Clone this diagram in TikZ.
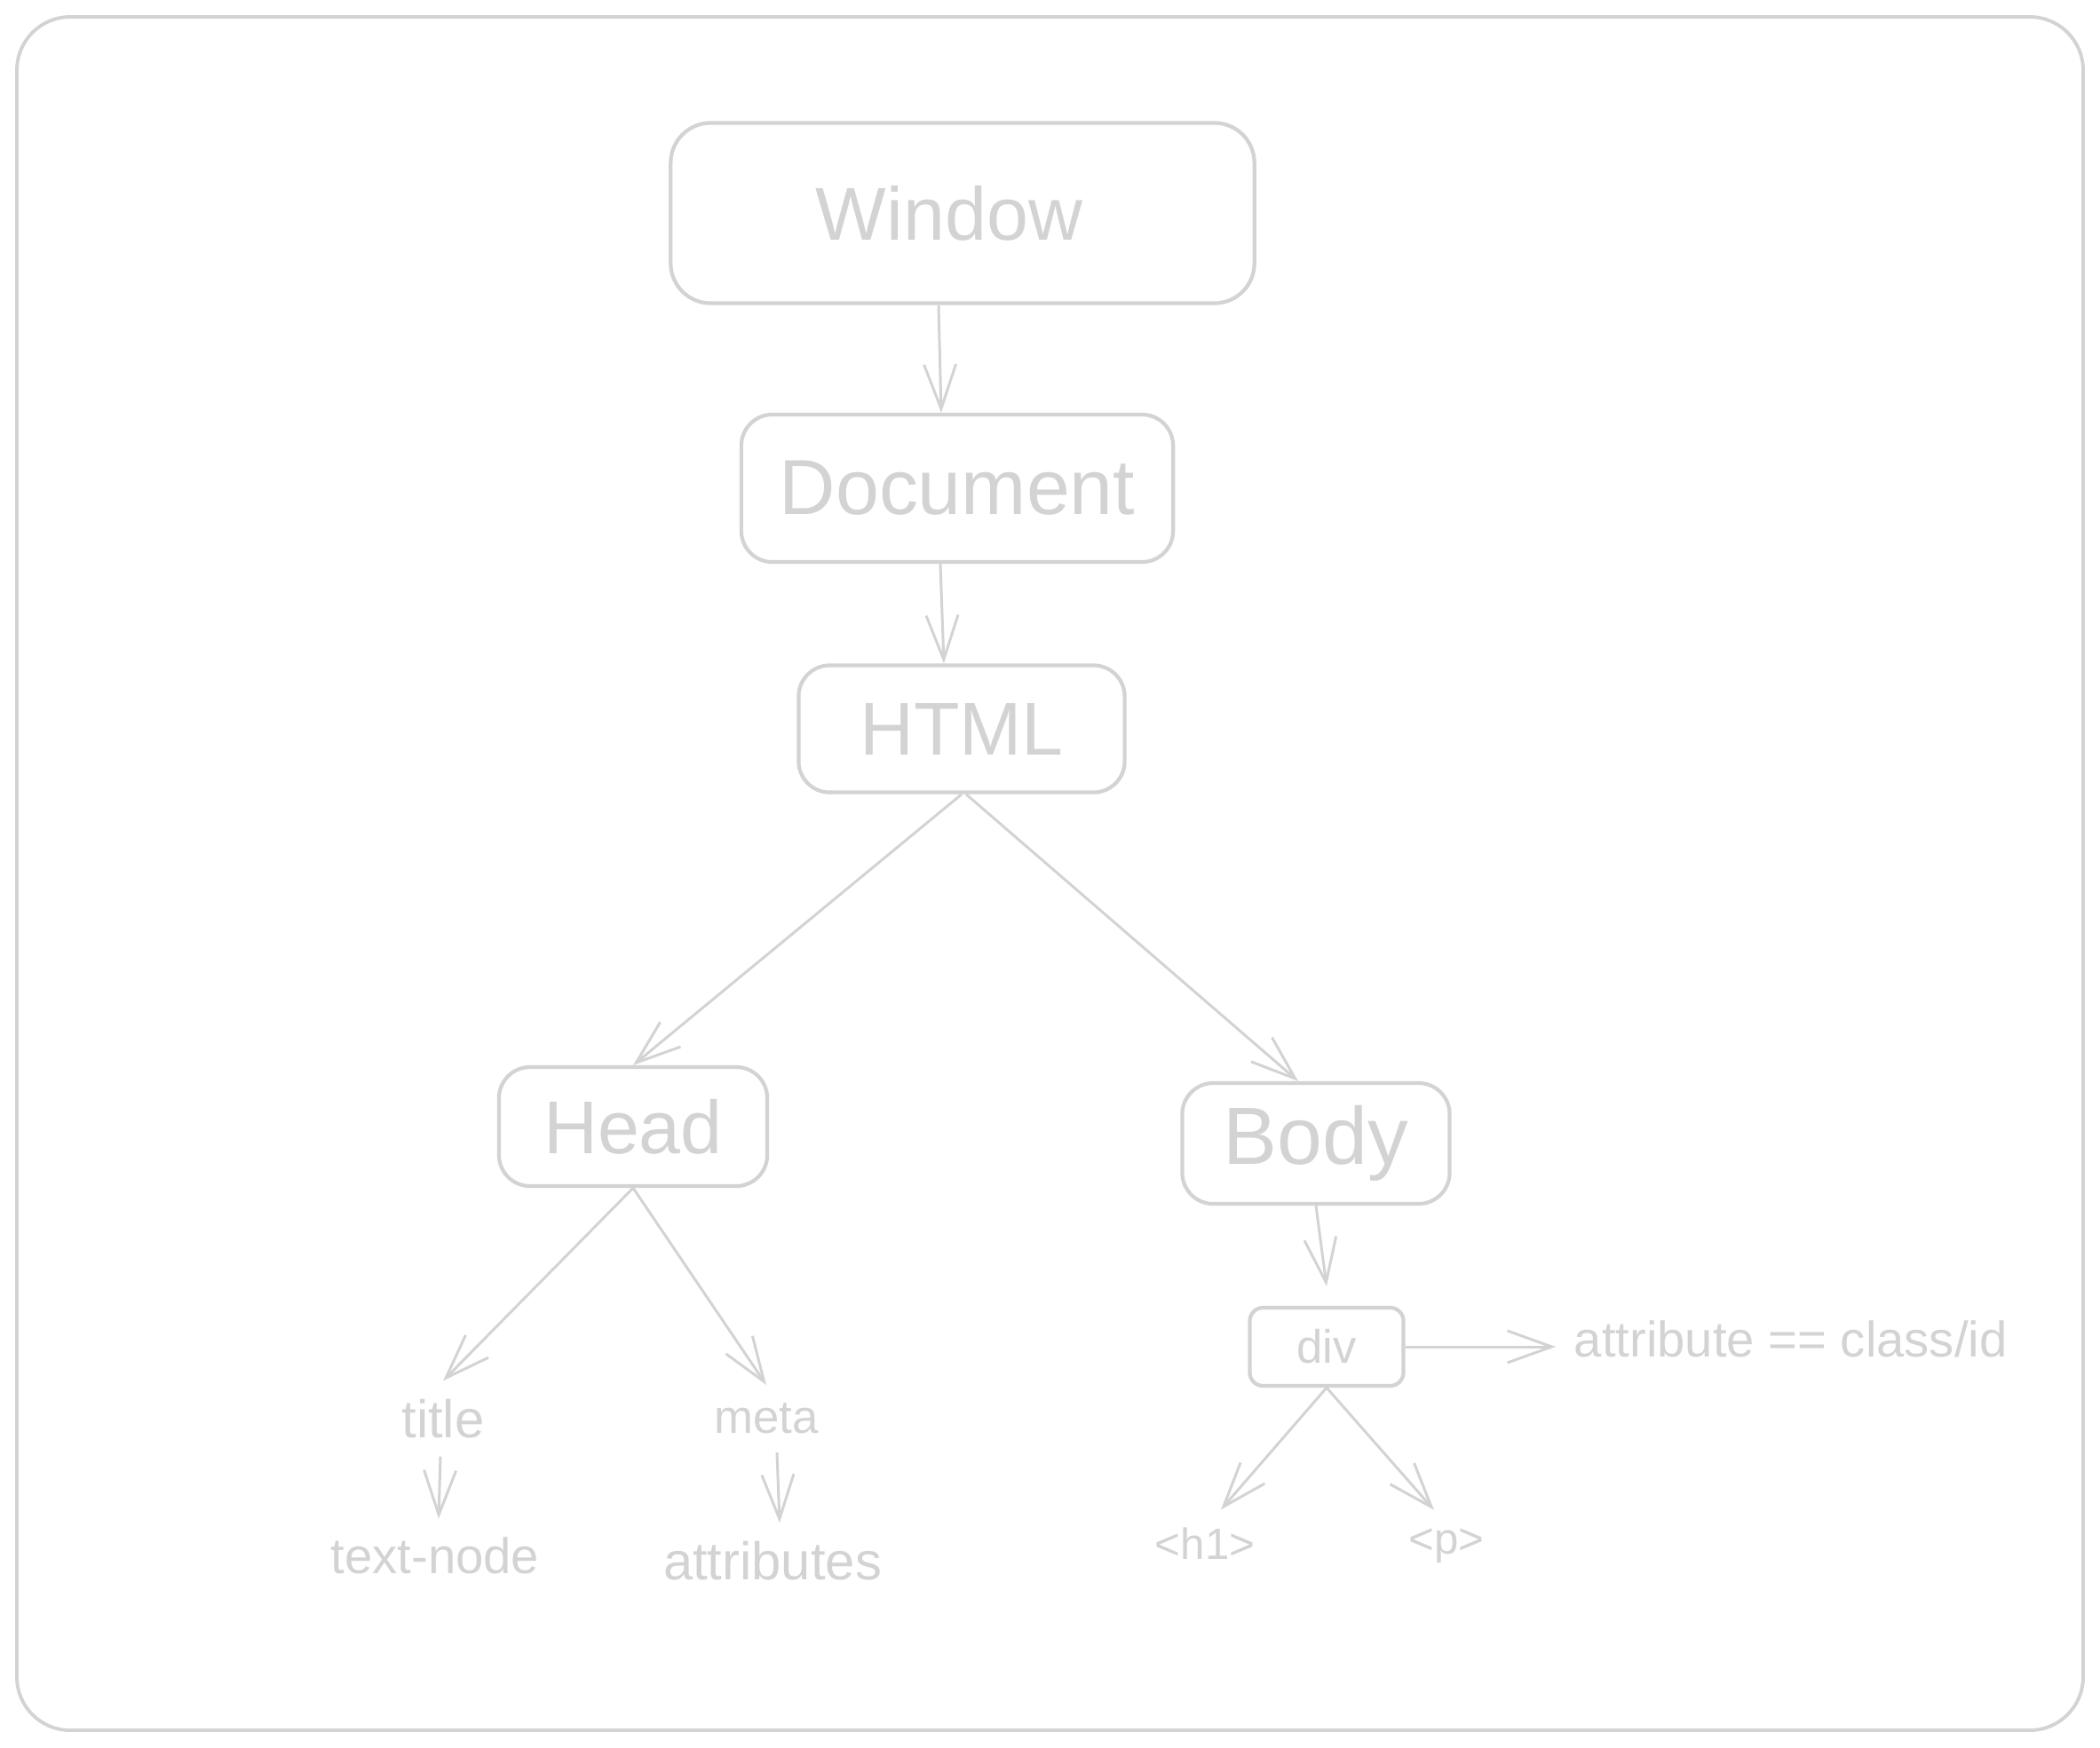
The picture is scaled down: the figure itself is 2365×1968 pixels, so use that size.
\documentclass[tikz,border=0pt]{standalone}
\usepackage{fontspec}
\setmainfont{Liberation Sans}
\usepackage{tikz}
\usepackage{xcolor}
\usetikzlibrary{arrows.meta,positioning}
\definecolor{sketch}{HTML}{D3D3D3}

\begin{document}
\begin{tikzpicture}[
    x=0.01cm, y=-0.01cm,
    box/.style={rectangle, draw=sketch, line width=1.2pt, rounded corners=0.35cm, inner sep=0pt, align=center, text=sketch},
    big/.style={box, font=\fontsize{24}{28}\selectfont},
    small/.style={box, rounded corners=0.15cm, font=\fontsize{15}{18}\selectfont},
    lbl/.style={text=sketch, inner sep=0.2cm, font=\fontsize{16}{19}\selectfont},
    link/.style={draw=sketch, line width=0.85pt, -{Straight Barb[length=0.5cm,width=0.36cm]}}
]

\useasboundingbox (0,0) rectangle (2365,1968);

% Frame
\draw[sketch, line width=1.1pt, rounded corners=0.6cm] (19,19) rectangle (2346,1949);

% Main chain
\node[big, minimum width=6.57cm, minimum height=2.03cm, rounded corners=0.45cm] (win) at (1084,240) {Window\hspace*{0.3cm}};
\node[big, minimum width=4.86cm, minimum height=1.66cm, font=\fontsize{25}{29}\selectfont] (doc) at (1078,550) {Document};
\node[big, minimum width=3.67cm, minimum height=1.43cm] (html) at (1083,821) {HTML};

\draw[link] ([xshift=-0.27cm]win.south) -- ([xshift=-0.18cm]doc.north);
\draw[link] ([xshift=-0.19cm]doc.south) -- ([xshift=-0.2cm]html.north);

% Head side
\node[big, minimum width=3.02cm, minimum height=1.34cm] (head) at (713,1269) {Head};
\node[lbl, font=\fontsize{17}{20}\selectfont] (title) at (499,1598) {title};
\node[lbl, font=\fontsize{15}{18}\selectfont] (meta) at (863,1598) {meta};
\node[lbl] (tnode) at (490,1752) {text-node};
\node[lbl, font=\fontsize{17}{20}\selectfont] (attrs) at (870,1758) {attributes};

\draw[link] (html.south) -- (head.north);
\draw[link] (head.south) -- (title.north);
\draw[link] (head.south) -- (meta.north);
\draw[link] ([xshift=-0.03cm]title.south) -- ([xshift=-0.05cm]title.south |- tnode.north);
\draw[link] ([xshift=0.12cm]meta.south) -- ([xshift=0.15cm]meta.south |- attrs.north);

% Body side
\node[big, minimum width=3.01cm, minimum height=1.36cm, font=\fontsize{26}{30}\selectfont] (body) at (1482,1288) {Body};
\node[small, minimum width=1.73cm, minimum height=0.88cm] (div) at (1494,1517) {div};
\node[lbl, anchor=west] (attr) at (1752,1508) {attribute == class/id};
\node[lbl, font=\fontsize{14}{17}\selectfont] (hone) at (1357,1739) {<h1>};
\node[lbl, font=\fontsize{14}{17}\selectfont] (para) at (1629,1741) {<p>};

\draw[link] ([xshift=0.05cm]html.south) -- ([xshift=-0.2cm]body.north);
\draw[link] (body.south) -- ([yshift=0.22cm]div.north);
\draw[link] (div.east) -- (attr.west |- div.east);
\draw[link] (div.south) -- ([xshift=0.18cm]hone.north);
\draw[link] (div.south) -- ([xshift=-0.14cm]para.north);
\end{tikzpicture}
\end{document}
